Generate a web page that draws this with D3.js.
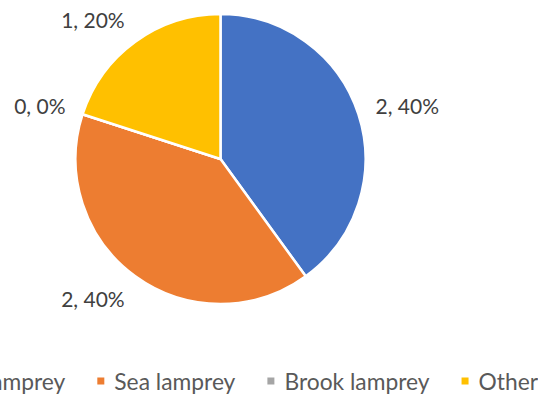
<!DOCTYPE html>
<html><head><meta charset="utf-8">
<script src="https://cdn.jsdelivr.net/npm/d3@7"></script>
<style>html,body{margin:0;padding:0;background:#fff;overflow:hidden}</style>
</head><body>
<svg id="chart" width="538" height="396"></svg>
<script>
const categories = ["River lamprey", "Sea lamprey", "Brook lamprey", "Other"];
const values = [2, 2, 0, 1];
const percentLabels = ["40%", "40%", "0%", "20%"];
const colors = ["#4472C4", "#ED7D31", "#A5A5A5", "#FFC000"];

const svg = d3.select("#chart");
const W = 538, H = 396;
const cx = 220.5, cy = 159, r = 145;
const font = "Lato, 'Open Sans', sans-serif";

const pie = d3.pie().value(d => d.v).sort(null);
const data = pie(categories.map((c, i) => ({c, v: values[i], i})));
const arc = d3.arc().innerRadius(0).outerRadius(r);

const g = svg.append("g").attr("transform", `translate(${cx},${cy})`);
g.selectAll("path").data(data).join("path")
  .attr("d", arc)
  .attr("fill", d => colors[d.data.i])
  .attr("stroke", "#fff")
  .attr("stroke-width", 2.5)
  .attr("stroke-linejoin", "round");

const labelR = r + 18, lh = 20;
g.selectAll("text.lbl").data(data).join("text")
  .attr("class", "lbl")
  .each(function(d) {
    const a = (d.startAngle + d.endAngle) / 2;
    const s = Math.sin(a), c = Math.cos(a);
    const x = labelR * s, y = -labelR * c - c * lh / 2;
    d3.select(this)
      .attr("x", x).attr("y", y)
      .attr("text-anchor", s >= 0 ? "start" : "end")
      .attr("dominant-baseline", "central");
  })
  .attr("font-family", font)
  .attr("font-size", 21)
  .attr("fill", "#404040")
  .text(d => `${d.data.v}, ${percentLabels[d.data.i]}`);

// legend
const legY = 381, ms = 7, mGap = 10, itemGap = 32;
const leg = svg.append("g");
const items = leg.selectAll("g").data(categories).join("g");
items.append("rect").attr("width", ms).attr("height", ms).attr("y", legY - ms / 2)
  .attr("fill", (d, i) => colors[i]);
items.append("text").attr("x", ms + mGap).attr("y", legY)
  .attr("dominant-baseline", "central")
  .attr("font-family", font).attr("font-size", 22.8).attr("fill", "#595959")
  .text(d => d);
let widths = [];
items.each(function() { widths.push(ms + mGap + d3.select(this).select("text").node().getComputedTextLength()); });
const total = d3.sum(widths) + itemGap * (widths.length - 1);
let x0 = 225 - total / 2;
items.each(function(d, i) {
  d3.select(this).attr("transform", `translate(${x0},0)`);
  x0 += widths[i] + itemGap;
});
</script>
</body></html>
